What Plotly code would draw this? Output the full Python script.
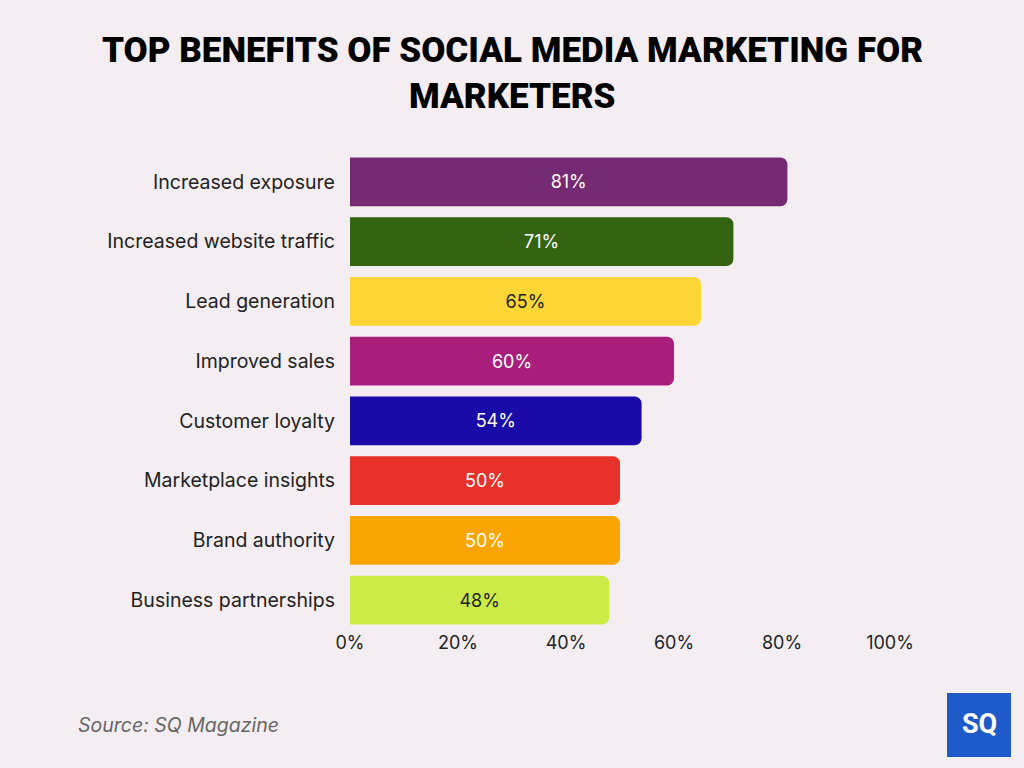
import plotly.graph_objects as go

categories = ["Increased exposure", "Increased website traffic", "Lead generation",
              "Improved sales", "Customer loyalty", "Marketplace insights",
              "Brand authority", "Business partnerships"]
values = [81, 71, 65, 60, 54, 50, 50, 48]
colors = ["#732A72", "#346312", "#FDD535", "#A91E7A", "#1A0AA8", "#E8312A", "#FBA504", "#CCEB47"]
text_colors = ["white", "white", "#222222", "white", "white", "white", "white", "#222222"]
tick_vals = [0, 20, 40, 60, 80, 100]
tick_text = ["0%", "20%", "40%", "60%", "80%", "100%"]

fig = go.Figure(go.Bar(
    x=values, y=categories, orientation="h",
    marker=dict(color=colors, line=dict(width=0)),
    text=[f"{v}%" for v in values], textposition="inside", insidetextanchor="middle",
    textfont=dict(color=text_colors, size=18, family="Inter"),
    width=0.82, hoverinfo="skip",
))

fig.update_layout(
    width=1024, height=768,
    margin=dict(l=350, r=134, t=152, b=138),
    paper_bgcolor="#F4EEF2", plot_bgcolor="rgba(0,0,0,0)",
    barcornerradius=7,
    showlegend=False,
    xaxis=dict(range=[0, 100], tickvals=tick_vals, ticktext=tick_text, showgrid=False,
               zeroline=False, showline=False, ticks="", ticklabelstandoff=0,
               tickfont=dict(family="Inter", size=18, color="#222222"), fixedrange=True),
    yaxis=dict(autorange="reversed", showgrid=False, zeroline=False, showline=False,
               ticks="", ticklabelstandoff=14,
               tickfont=dict(family="Inter", size=19.5, color="#222222")),
    font=dict(family="Inter"),
)

# Title as two centred lines
title_lines = ["TOP BENEFITS OF SOCIAL MEDIA MARKETING FOR", "MARKETERS"]
for line, ypix in zip(title_lines, [50, 97]):
    fig.add_annotation(text=line, xref="paper", yref="paper",
                       x=(512 - 350) / 540, xanchor="center",
                       y=(630 - ypix) / 478, yanchor="middle", showarrow=False,
                       font=dict(family="Roboto", size=35, color="black", weight=900))

fig.add_annotation(text="<i>Source: SQ Magazine</i>", xref="paper", yref="paper",
                   x=(76 - 350) / 540, xanchor="left", y=(630 - 725) / 478, yanchor="middle",
                   showarrow=False, font=dict(family="Inter", size=19.5, color="#666666"))

fig.add_shape(type="rect", xref="paper", yref="paper",
              x0=(947 - 350) / 540, x1=(1011 - 350) / 540,
              y0=(630 - 757) / 478, y1=(630 - 693) / 478,
              fillcolor="#1F5BC8", line=dict(width=0), layer="above")
fig.add_annotation(text="<b>SQ</b>", xref="paper", yref="paper",
                   x=(979 - 350) / 540, xanchor="center",
                   y=(630 - 724) / 478, yanchor="middle", showarrow=False,
                   font=dict(family="Roboto", size=27, color="white"))

fig.write_html("out.html")
